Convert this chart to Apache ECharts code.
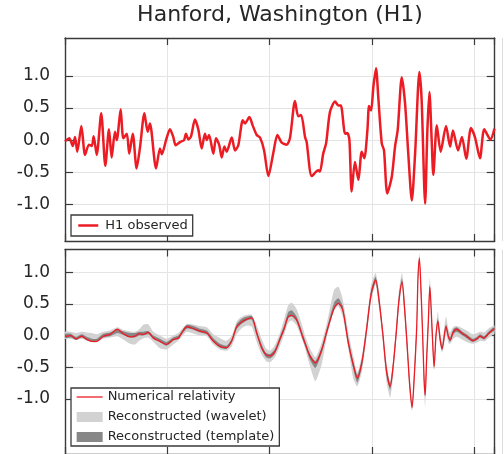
<!DOCTYPE html>
<html>
<head>
<meta charset="utf-8">
<script src="https://cdn.jsdelivr.net/npm/echarts@6/dist/echarts.min.js"></script>
<style>
  html, body { margin: 0; padding: 0; background: #fff; }
  #chart { width: 504px; height: 454px; }
</style>
</head>
<body>
<div id="chart"></div>
<script>
// H1 observed strain (top panel)
const times = [
  0.2500, 0.2521, 0.2538, 0.2549, 0.2560, 0.2580, 0.2598, 0.2617, 0.2631, 0.2640,
  0.2655, 0.2677, 0.2697, 0.2715, 0.2728, 0.2744, 0.2753, 0.2772, 0.2785, 0.2802,
  0.2814, 0.2831, 0.2850, 0.2867, 0.2888, 0.2904, 0.2915, 0.2945, 0.2964, 0.2973,
  0.2994, 0.3013, 0.3029, 0.3041, 0.3062, 0.3082, 0.3091, 0.3103, 0.3116, 0.3135,
  0.3152, 0.3168, 0.3184, 0.3193, 0.3204, 0.3225, 0.3238, 0.3254, 0.3266, 0.3279,
  0.3290, 0.3315, 0.3331, 0.3347, 0.3369, 0.3380, 0.3401, 0.3417, 0.3437, 0.3453,
  0.3473, 0.3494, 0.3518, 0.3538, 0.3559, 0.3584, 0.3600, 0.3624, 0.3640, 0.3654,
  0.3673, 0.3681, 0.3706, 0.3738, 0.3746, 0.3762, 0.3776, 0.3795, 0.3820, 0.3836,
  0.3848, 0.3869, 0.3880, 0.3890, 0.3901, 0.3917, 0.3934, 0.3950, 0.3963, 0.3978,
  0.3986, 0.3996, 0.4007, 0.4020, 0.4031, 0.4048, 0.4059, 0.4075, 0.4097, 0.4113,
  0.4126, 0.4146, 0.4162, 0.4178, 0.4195, 0.4211, 0.4232, 0.4243, 0.4260, 0.4271,
  0.4281, 0.4292, 0.4300, 0.4317, 0.4336, 0.4362, 0.4382, 0.4396, 0.4421, 0.4440,
  0.4461, 0.4484, 0.4504, 0.4528, 0.4549, 0.4579, 0.4599
];
const h1Observed = [
  -0.02, 0.03, -0.09, 0.05, -0.18, 0.22, -0.23, -0.07, -0.09, 0.06,
  -0.23, 0.42, -0.40, 0.17, -0.27, 0.13, 0.00, 0.48, 0.03, 0.10,
  -0.21, 0.10, -0.44, -0.10, 0.42, 0.13, 0.26, -0.44, -0.13, -0.22,
  0.00, 0.17, 0.05, -0.08, -0.03, 0.00, 0.10, 0.01, 0.06, 0.32,
  0.16, -0.13, 0.10, 0.00, 0.08, -0.21, 0.03, -0.08, -0.27, -0.10,
  -0.18, 0.04, -0.16, -0.08, 0.31, 0.26, 0.36, 0.23, 0.08, 0.04,
  -0.16, -0.56, -0.20, 0.08, -0.04, -0.07, 0.04, 0.61, 0.37, 0.39,
  0.05, -0.03, -0.56, -0.47, -0.49, -0.21, -0.05, 0.44, 0.60, 0.54,
  0.54, 0.10, 0.11, 0.00, -0.80, -0.34, -0.62, -0.18, -0.28, 0.16,
  0.53, 0.46, 0.83, 1.12, 0.67, -0.05, -0.16, -0.83, -0.57, -0.10,
  0.16, 0.98, 0.57, -0.23, -0.94, -0.21, 1.06, 0.62, -0.99, 0.16,
  0.75, 0.00, -0.54, 0.23, -0.18, 0.22, -0.10, 0.15, -0.16, 0.05,
  -0.29, 0.19, 0.04, -0.28, 0.17, 0.01, 0.18
];

// bottom panel: numerical relativity and the two reconstruction bands
const nrTimes = [
  0.2500, 0.2508, 0.2529, 0.2554, 0.2582, 0.2606, 0.2631, 0.2655, 0.2687, 0.2720,
  0.2756, 0.2785, 0.2818, 0.2842, 0.2863, 0.2883, 0.2907, 0.2932, 0.2964, 0.2996,
  0.3029, 0.3054, 0.3070, 0.3095, 0.3119, 0.3160, 0.3193, 0.3225, 0.3258, 0.3290,
  0.3315, 0.3339, 0.3365, 0.3390, 0.3413, 0.3437, 0.3461, 0.3482, 0.3502, 0.3526,
  0.3551, 0.3570, 0.3591, 0.3608, 0.3632, 0.3665, 0.3673, 0.3697, 0.3724, 0.3755,
  0.3781, 0.3815, 0.3836, 0.3857, 0.3885, 0.3909, 0.3929, 0.3952, 0.3974, 0.3996,
  0.4018, 0.4035, 0.4053, 0.4071, 0.4089, 0.4103, 0.4118, 0.4132, 0.4147, 0.4159,
  0.4172, 0.4184, 0.4196, 0.4206, 0.4219, 0.4225, 0.4232, 0.4240, 0.4248, 0.4255,
  0.4260, 0.4267, 0.4276, 0.4283, 0.4294, 0.4304, 0.4313, 0.4322, 0.4333, 0.4343,
  0.4362, 0.4374, 0.4382, 0.4398, 0.4414, 0.4439, 0.4463, 0.4493, 0.4514, 0.4528,
  0.4548, 0.4569, 0.4590, 0.4599
];
const numericalRelativity = [
  0.00, -0.01, 0.00, -0.05, -0.01, -0.06, -0.09, -0.09, -0.01, 0.02,
  0.10, 0.03, -0.02, -0.01, 0.03, 0.02, 0.05, -0.04, -0.09, -0.14,
  -0.06, -0.04, 0.04, 0.14, 0.12, 0.07, 0.04, -0.09, -0.17, -0.19,
  -0.08, 0.14, 0.22, 0.26, 0.28, 0.04, -0.19, -0.30, -0.32, -0.25,
  -0.05, 0.10, 0.30, 0.32, 0.25, -0.05, -0.12, -0.32, -0.43, -0.22,
  0.08, 0.43, 0.51, 0.41, -0.12, -0.46, -0.67, -0.40, 0.10, 0.65,
  0.88, 0.55, 0.04, -0.55, -0.80, -0.50, 0.02, 0.55, 0.85, 0.45,
  -0.15, -0.75, -1.13, -0.70, 0.15, 0.90, 1.22, 0.70, 0.00, -0.70,
  -0.94, -0.40, 0.25, 0.77, 0.10, -0.49, 0.00, 0.23, -0.05, -0.21,
  0.14, -0.02, -0.07, 0.06, 0.10, 0.04, -0.01, -0.08, -0.05, -0.01,
  -0.04, 0.03, 0.09, 0.11
];
const templateLow = [
  -0.03, -0.04, -0.03, -0.07, -0.03, -0.07, -0.10, -0.10, -0.03, -0.01,
  0.04, 0.01, -0.03, -0.03, 0.00, 0.00, 0.02, -0.05, -0.10, -0.16,
  -0.08, -0.05, 0.02, 0.11, 0.10, 0.05, 0.02, -0.10, -0.19, -0.21,
  -0.11, 0.10, 0.19, 0.24, 0.25, 0.00, -0.22, -0.34, -0.36, -0.29,
  -0.09, 0.07, 0.28, 0.30, 0.22, -0.09, -0.16, -0.38, -0.51, -0.27,
  0.05, 0.42, 0.50, 0.39, -0.17, -0.53, -0.74, -0.48, 0.05, 0.60,
  0.84, 0.50, -0.02, -0.62, -0.86, -0.56, -0.03, 0.50, 0.82, 0.40,
  -0.20, -0.80, -1.16, -0.75, 0.10, 0.85, 1.18, 0.65, -0.05, -0.75,
  -0.98, -0.45, 0.20, 0.73, 0.05, -0.53, -0.04, 0.19, -0.09, -0.24,
  0.10, -0.05, -0.10, 0.02, 0.06, 0.01, -0.04, -0.10, -0.07, -0.03,
  -0.06, 0.01, 0.06, 0.08
];
const templateHigh = [
  0.03, 0.03, 0.03, -0.02, 0.02, -0.02, -0.05, -0.05, 0.03, 0.05,
  0.09, 0.07, 0.04, 0.04, 0.06, 0.06, 0.07, 0.00, -0.05, -0.10,
  -0.03, 0.00, 0.07, 0.17, 0.16, 0.11, 0.08, -0.04, -0.13, -0.16,
  -0.05, 0.18, 0.27, 0.30, 0.31, 0.08, -0.14, -0.27, -0.29, -0.21,
  -0.01, 0.15, 0.37, 0.40, 0.30, 0.00, -0.08, -0.29, -0.40, -0.18,
  0.13, 0.52, 0.59, 0.47, -0.06, -0.42, -0.62, -0.36, 0.15, 0.72,
  0.93, 0.60, 0.08, -0.50, -0.76, -0.45, 0.08, 0.62, 0.90, 0.52,
  -0.10, -0.70, -1.10, -0.65, 0.20, 0.95, 1.25, 0.75, 0.05, -0.65,
  -0.90, -0.35, 0.30, 0.81, 0.15, -0.45, 0.05, 0.27, 0.00, -0.17,
  0.18, 0.02, -0.03, 0.10, 0.13, 0.07, 0.02, -0.05, -0.02, 0.02,
  -0.01, 0.06, 0.12, 0.13
];
const waveletLow = [
  -0.05, -0.05, -0.05, -0.07, -0.05, -0.08, -0.10, -0.10, -0.05, -0.03,
  -0.01, -0.06, -0.13, -0.14, -0.08, -0.04, -0.03, -0.10, -0.20, -0.22,
  -0.14, -0.08, -0.02, 0.06, 0.04, 0.00, -0.01, -0.14, -0.22, -0.24,
  -0.17, 0.02, 0.12, 0.16, 0.14, -0.10, -0.30, -0.40, -0.42, -0.34,
  -0.16, 0.00, 0.20, 0.24, 0.16, -0.12, -0.20, -0.48, -0.72, -0.45,
  0.00, 0.40, 0.46, 0.30, -0.22, -0.68, -0.80, -0.55, -0.02, 0.55,
  0.80, 0.42, -0.10, -0.72, -0.98, -0.66, -0.10, 0.42, 0.78, 0.32,
  -0.30, -0.90, -1.19, -0.85, 0.00, 0.75, 1.12, 0.55, -0.15, -0.85,
  -1.13, -0.60, 0.10, 0.65, -0.05, -0.55, -0.10, 0.12, -0.15, -0.27,
  0.02, -0.12, -0.13, -0.05, -0.02, -0.06, -0.10, -0.13, -0.11, -0.08,
  -0.09, -0.04, 0.01, 0.03
];
const waveletHigh = [
  0.06, 0.07, 0.06, 0.04, 0.06, 0.05, 0.04, 0.02, 0.06, 0.08,
  0.13, 0.09, 0.07, 0.06, 0.10, 0.17, 0.18, 0.06, 0.00, -0.05,
  0.00, 0.04, 0.10, 0.18, 0.18, 0.15, 0.13, 0.02, -0.04, -0.08,
  0.00, 0.22, 0.30, 0.33, 0.33, 0.16, -0.05, -0.20, -0.24, -0.15,
  0.05, 0.25, 0.48, 0.52, 0.42, 0.10, 0.00, -0.20, -0.34, -0.10,
  0.22, 0.72, 0.77, 0.58, 0.05, -0.32, -0.58, -0.30, 0.22, 0.80,
  0.99, 0.70, 0.12, -0.42, -0.72, -0.40, 0.14, 0.72, 0.99, 0.62,
  0.00, -0.62, -1.05, -0.55, 0.30, 1.05, 1.30, 0.85, 0.15, -0.55,
  -0.85, -0.25, 0.40, 0.91, 0.25, -0.38, 0.10, 0.38, 0.08, -0.10,
  0.30, 0.10, 0.05, 0.14, 0.15, 0.12, 0.08, 0.02, 0.04, 0.06,
  0.05, 0.11, 0.15, 0.16
];

const yTicks = [-1.0, -0.5, 0.0, 0.5, 1.0];
const xTickStep = 0.05;

const RED = '#ec1c24';
const FRAME = '#3a3a3a';
const TEXT = '#262626';
const FONT = 'DejaVu Sans';
const WAVELET_GRAY = '#d2d2d2';
const TEMPLATE_GRAY = '#878787';

const zip = (xs, ys) => xs.map((x, i) => [x, ys[i]]);
const bandRows = (lo, hi) => nrTimes.map((t, i) => [t, lo[i], hi[i]]);

// one closed polygon per band: upper edge left to right, lower edge back
function bandRenderer(lo, hi, color) {
  return function (params, api) {
    if (params.dataIndex !== 0) return null;
    const upper = nrTimes.map((t, i) => api.coord([t, hi[i]]));
    const lower = nrTimes.map((t, i) => api.coord([t, lo[i]])).reverse();
    return {
      type: 'polygon',
      shape: { points: upper.concat(lower), smooth: 0.2 },
      style: { fill: color, stroke: null },
    };
  };
}

const chart = echarts.init(document.getElementById('chart'), null, { renderer: 'canvas' });

function xAxisFor(grid, position, withGrid) {
  return {
    type: 'value',
    gridIndex: grid,
    position: position,
    min: 0.25,
    max: 0.46,
    interval: xTickStep,
    axisLine: { show: true, onZero: false, lineStyle: { color: FRAME, width: 1.4 } },
    axisTick: { show: true, inside: true, length: 7, lineStyle: { color: FRAME, width: 1.2 } },
    axisLabel: { show: false },
    splitLine: { show: withGrid, lineStyle: { color: '#e4e4e4', width: 1 } },
  };
}

function yAxisFor(grid, position, min, max, withLabels) {
  return {
    type: 'value',
    gridIndex: grid,
    position: position,
    min: min,
    max: max,
    axisLine: { show: true, onZero: false, lineStyle: { color: FRAME, width: 1.4 } },
    axisTick: { show: true, inside: true, length: 8, customValues: yTicks, lineStyle: { color: FRAME, width: 1.2 } },
    axisLabel: {
      show: withLabels,
      customValues: yTicks,
      formatter: v => v.toFixed(1),
      fontSize: 17,
      fontFamily: FONT,
      color: TEXT,
      margin: 15,
    },
    splitLine: { show: withLabels, lineStyle: { color: '#e4e4e4', width: 1 } },
  };
}

const option = {
  animation: false,
  backgroundColor: '#fff',
  title: {
    text: 'Hanford, Washington (H1)',
    left: 280,
    top: 4,
    padding: 0,
    textAlign: 'center',
    textStyle: { fontFamily: FONT, fontSize: 22, fontWeight: 'normal', color: TEXT },
  },
  grid: [
    { left: 65, top: 38, width: 429.7, height: 203 },
    { left: 65, top: 249.5, width: 429.7, height: 205.5 },
  ],
  xAxis: [
    xAxisFor(0, 'bottom', true),
    xAxisFor(0, 'top', false),
    xAxisFor(1, 'bottom', true),
    xAxisFor(1, 'top', false),
  ],
  yAxis: [
    yAxisFor(0, 'left', -1.57, 1.59, true),
    yAxisFor(0, 'right', -1.57, 1.59, false),
    yAxisFor(1, 'left', -1.87, 1.36, true),
    yAxisFor(1, 'right', -1.87, 1.36, false),
  ],
  legend: [
    {
      data: [
        { name: 'H1 observed', itemStyle: { opacity: 0 }, lineStyle: { color: RED, width: 2.5, opacity: 1 } },
      ],
      left: 71,
      top: 215,
      orient: 'vertical',
      backgroundColor: '#fff',
      borderColor: FRAME,
      borderWidth: 1.3,
      padding: [3, 5, 3, 6],
      itemWidth: 20,
      itemHeight: 12,
      textStyle: { fontFamily: FONT, fontSize: 13, color: TEXT, lineHeight: 15, padding: [0, 0, 0, 2] },
    },
    {
      data: [
        { name: 'Numerical relativity', itemStyle: { opacity: 0 }, lineStyle: { color: RED, width: 1.3, opacity: 1 } },
        { name: 'Reconstructed (wavelet)', icon: 'rect', itemStyle: { color: WAVELET_GRAY, opacity: 1 } },
        { name: 'Reconstructed (template)', icon: 'rect', itemStyle: { color: TEMPLATE_GRAY, opacity: 1 } },
      ],
      left: 71,
      top: 388,
      orient: 'vertical',
      backgroundColor: '#fff',
      borderColor: FRAME,
      borderWidth: 1.3,
      padding: [2, 5, 2, 5],
      itemGap: 6,
      itemWidth: 26,
      itemHeight: 10,
      textStyle: { fontFamily: FONT, fontSize: 13, color: TEXT, lineHeight: 14 },
    },
  ],
  series: [
    {
      name: 'H1 observed',
      type: 'line',
      xAxisIndex: 0,
      yAxisIndex: 0,
      data: zip(times, h1Observed),
      symbol: 'none',
      smooth: 0.25,
      lineStyle: { color: RED, width: 2.5 },
      itemStyle: { color: RED },
      z: 5,
    },
    {
      name: 'Reconstructed (wavelet)',
      type: 'custom',
      xAxisIndex: 2,
      yAxisIndex: 2,
      data: bandRows(waveletLow, waveletHigh),
      encode: { x: 0, y: [1, 2] },
      renderItem: bandRenderer(waveletLow, waveletHigh, WAVELET_GRAY),
      itemStyle: { color: WAVELET_GRAY },
      clip: true,
      silent: true,
      z: 2,
    },
    {
      name: 'Reconstructed (template)',
      type: 'custom',
      xAxisIndex: 2,
      yAxisIndex: 2,
      data: bandRows(templateLow, templateHigh),
      encode: { x: 0, y: [1, 2] },
      renderItem: bandRenderer(templateLow, templateHigh, TEMPLATE_GRAY),
      itemStyle: { color: TEMPLATE_GRAY },
      clip: true,
      silent: true,
      z: 3,
    },
    {
      name: 'Numerical relativity',
      type: 'line',
      xAxisIndex: 2,
      yAxisIndex: 2,
      data: zip(nrTimes, numericalRelativity),
      symbol: 'none',
      smooth: 0.3,
      lineStyle: { color: RED, width: 1.3 },
      itemStyle: { color: RED },
      z: 5,
    },
  ],
  graphic: [
    { type: 'line', shape: { x1: 502.5, y1: 38, x2: 502.5, y2: 241 }, style: { stroke: '#dcdcdc', lineWidth: 1 } },
    { type: 'line', shape: { x1: 502.5, y1: 249.5, x2: 502.5, y2: 454 }, style: { stroke: '#dcdcdc', lineWidth: 1 } },
  ],
};

chart.setOption(option);
</script>
</body>
</html>
